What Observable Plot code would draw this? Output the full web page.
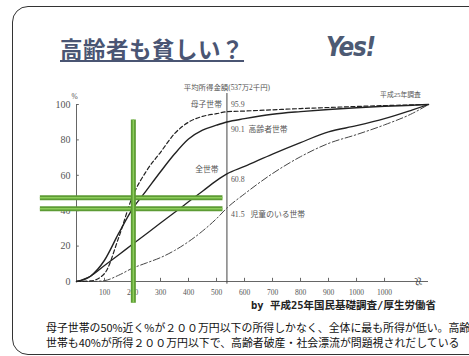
<!DOCTYPE html>
<html>
<head>
<meta charset="utf-8">
<script src="https://cdn.jsdelivr.net/npm/d3@7"></script>
<script src="https://cdn.jsdelivr.net/npm/@observablehq/plot@0.6"></script>
<style>
html,body{margin:0;padding:0;background:#fff;overflow:hidden;width:469px;height:356px}
#slide{position:relative;width:469px;height:356px;overflow:hidden;background:#fff}
#chart{position:absolute;left:0;top:0}
#chart svg, #chart svg text{font-family:"Liberation Serif","DejaVu Serif","Noto Sans CJK JP",serif !important}
.frame{position:absolute;left:12px;top:6px;width:480px;height:348.5px;border:1.3px solid #333;border-radius:16px;box-sizing:border-box;pointer-events:none}
.title{position:absolute;left:60px;top:36.5px;font-family:"Noto Sans CJK JP",sans-serif;font-weight:700;font-size:22.5px;line-height:1;letter-spacing:0.5px;color:#4a5573;text-decoration:underline;text-decoration-thickness:2px;text-underline-offset:2px;white-space:nowrap}
.yes{position:absolute;left:326px;top:33px;font-family:"DejaVu Sans",sans-serif;font-weight:700;font-style:italic;font-size:27px;line-height:1;letter-spacing:-1.5px;color:#4d5a73;transform:scaleX(0.86);transform-origin:left center}
.source{position:absolute;left:251px;top:299px;font-family:"DejaVu Sans Mono","Noto Sans CJK JP",monospace;font-weight:700;font-size:10.5px;line-height:12px;color:#222;white-space:nowrap}
.note{position:absolute;left:46px;font-family:"Noto Sans CJK JP",sans-serif;font-size:10.9px;line-height:13px;color:#111;white-space:nowrap}
</style>
</head>
<body>
<div id="slide">
  <div id="chart"></div>
  <div class="title">高齢者も貧しい？</div>
  <div class="yes">Yes!</div>
  <div class="source">by 平成25年国民基礎調査/厚生労働省</div>
  <div class="note" style="top:321px">母子世帯の50%近く%が２００万円以下の所得しかなく、全体に最も所得が低い。高齢</div>
  <div class="note" style="top:335.5px">世帯も40%が所得２００万円以下で、高齢者破産・社会漂流が問題視されだしている</div>
  <div class="frame"></div>
</div>
<script>
// income (万円) and cumulative share of households (%)
const incomes       = [0, 50, 100, 150, 200, 250, 300, 350, 400, 450, 500, 537, 600, 700, 800, 900, 1000, 1100, 1200, 1257];
const motherChild   = [0, 0.3, 4.5, 24.5, 48, 62.5, 73, 83.5, 90, 93.3, 94.8, 95.9, 96.3, 97, 97.7, 98.3, 98.9, 99.4, 99.8, 100];
const elderly       = [0, 3, 12, 27, 41, 51.5, 62, 72, 80.5, 85.5, 88.3, 90.1, 92, 94.5, 96, 97.2, 98.2, 99, 99.6, 100];
const allHouseholds = [0, 3, 9, 15, 21, 27, 33, 39, 45, 51, 57, 60.8, 65, 72, 78.5, 84.5, 88, 92, 97, 100];
const withChildren  = [0, 0, 0.5, 3.5, 7.5, 10.5, 13.5, 17.5, 22.5, 28.5, 35.5, 41.5, 49.5, 61, 70.5, 78, 83, 88.5, 95, 100];

const seriesNames = ["母子世帯", "高齢者世帯", "全世帯", "児童のいる世帯"];
const meanValueLabels = ["95.9", "90.1", "60.8", "41.5"];
const meanIncome = 537.2;
const meanLabel = "平均所得金額(537万2千円)";
const surveyLabel = "平成25年調査";

const xTickValues = [100, 200, 300, 400, 500, 600, 700, 800, 900, 1000, 1100];
const xTickLabels = ["100", "200", "300", "400", "500", "600", "700", "800", "900", "1000", "1000"];
const yTickValues = [0, 20, 40, 60, 80, 100];
const xEnd = 1257;
const breakAt = 1220;

// annotation markers (green)
const markerIncome = 203;
const markerShares = [47.3, 41.1];

const pts = ys => incomes.map((x, i) => ({x, y: ys[i]}));
const ink = "#555";

const chart = Plot.plot({
  width: 469,
  height: 356,
  marginLeft: 76,
  marginRight: 41,
  marginTop: 104,
  marginBottom: 75,
  x: {domain: [0, xEnd]},
  y: {domain: [0, 100]},
  style: {background: "transparent", color: ink, overflow: "visible"},
  marks: [
    // axes lines and ticks
    Plot.ruleY([0], {x1: 0, x2: xEnd, stroke: "#666", strokeWidth: 1}),
    Plot.ruleX([0], {y1: 0, y2: 100, stroke: "#666", strokeWidth: 1}),
    Plot.ruleX(xTickValues, {x: d => d, y1: 0, y2: 1.8, stroke: "#666"}),
    Plot.ruleY(yTickValues, {y: d => d, x1: 0, x2: 10, stroke: "#666"}),
    Plot.axisX(xTickValues, {tickSize: 0, tickPadding: 8, fontSize: 7.5, label: null,
      tickFormat: d => xTickLabels[xTickValues.indexOf(d)]}),
    Plot.axisY(yTickValues, {tickSize: 0, tickPadding: 6, fontSize: 10, label: null}),
    Plot.text(["≈"], {x: breakAt, y: 0, text: d => d, fontSize: 16, rotate: 78, fill: "#444"}),
    Plot.text(["%"], {x: 0, y: 104.5, dx: -2, text: d => d, fontSize: 7.5}),

    // mean line
    Plot.ruleX([meanIncome], {x: d => d, y1: -1.5, y2: 106.2, stroke: "#444", strokeWidth: 1}),
    Plot.text([meanLabel], {x: meanIncome, y: 109.6, text: d => d, fontSize: 7.4}),
    Plot.text([surveyLabel], {x: 1157, y: 105.6, text: d => d, fontSize: 6.8}),

    // curves
    Plot.line(pts(withChildren), {x: "x", y: "y", curve: "monotone-x", stroke: "#444", strokeWidth: 1, strokeDasharray: "7,2.5,1.5,2.5"}),
    Plot.line(pts(allHouseholds), {x: "x", y: "y", curve: "monotone-x", stroke: "#222", strokeWidth: 1.3}),
    Plot.line(pts(elderly), {x: "x", y: "y", curve: "monotone-x", stroke: "#222", strokeWidth: 1.4}),
    Plot.line(pts(motherChild), {x: "x", y: "y", curve: "monotone-x", stroke: "#222", strokeWidth: 1.2, strokeDasharray: "4,2.5"}),

    // value labels at the mean
    Plot.text([meanValueLabels[0]], {x: meanIncome, y: 100, dx: 4, textAnchor: "start", text: d => d, fontSize: 7.8}),
    Plot.text([meanValueLabels[1]], {x: meanIncome, y: 85.9, dx: 4, textAnchor: "start", text: d => d, fontSize: 7.8}),
    Plot.text([meanValueLabels[2]], {x: meanIncome, y: 57.6, dx: 4, textAnchor: "start", text: d => d, fontSize: 7.8}),
    Plot.text([meanValueLabels[3]], {x: meanIncome, y: 37.9, dx: 4, textAnchor: "start", text: d => d, fontSize: 7.8}),
    // series names
    Plot.text([seriesNames[0]], {x: meanIncome, y: 100, dx: -5, textAnchor: "end", text: d => d, fontSize: 7.8}),
    Plot.text([seriesNames[1]], {x: meanIncome, y: 85.9, dx: 21.6, textAnchor: "start", text: d => d, fontSize: 7.8}),
    Plot.text([seriesNames[2]], {x: meanIncome, y: 63.3, dx: -8.4, textAnchor: "end", text: d => d, fontSize: 7.8}),
    Plot.text([seriesNames[3]], {x: meanIncome, y: 37.9, dx: 23.6, textAnchor: "start", text: d => d, fontSize: 7.8}),

    // green annotation lines
    Plot.ruleY(markerShares, {y: d => d, x1: -129, x2: 523, stroke: "#5d9b34", strokeWidth: 5}),
    Plot.ruleY(markerShares, {y: d => d, x1: -129, x2: 523, stroke: "#8ccd5a", strokeWidth: 1.5}),
    Plot.ruleX([markerIncome], {x: d => d, y1: -12.3, y2: 91.3, stroke: "#5d9b34", strokeWidth: 5}),
    Plot.ruleX([markerIncome], {x: d => d, y1: -12.3, y2: 91.3, stroke: "#8ccd5a", strokeWidth: 1.5})
  ]
});
document.getElementById("chart").appendChild(chart);
</script>
</body>
</html>
